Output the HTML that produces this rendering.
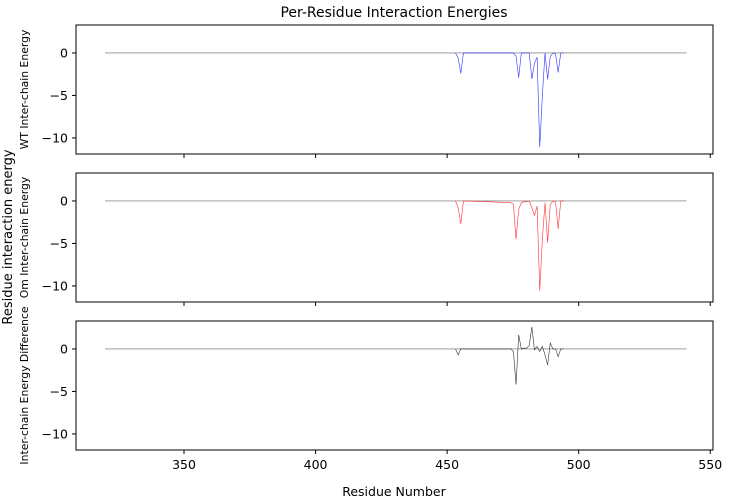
<!DOCTYPE html>
<html><head><meta charset="utf-8"><style>
body{margin:0;background:#fff}
svg{display:block;font-family:"DejaVu Sans","Liberation Sans",sans-serif}
</style></head><body>
<svg id="chart" width="750" height="500" viewBox="0 0 750 500" xmlns="http://www.w3.org/2000/svg">
<text x="394" y="17" font-size="14" text-anchor="middle">Per-Residue Interaction Energies</text>
<text x="394" y="496" font-size="12.5" text-anchor="middle">Residue Number</text>
<text transform="translate(12,237) rotate(-90)" font-size="13" text-anchor="middle">Residue interaction energy</text>
<g id="plots"></g>
</svg>
<script>
const xStart = 320, xEnd = 541;
const yTicks = [0, -5, -10];
const xTicks = [350, 400, 450, 500, 550];
const residues = [453,454,455,456,457,474,475,476,477,478,479,480,481,482,483,484,485,486,487,488,489,490,491,492,493,494];
const wtValues = [0,-0.6,-2.4,0,0,0,0,-0.4,-2.9,0,0,0,0,-3.06,-1.2,-0.5,-11.1,-5,0,-3.1,-0.4,0,-0.1,-2.3,0,0];
const omValues = [0,-0.8,-2.7,0,0,-0.2,-0.4,-4.5,-1.0,-0.2,-0.1,-0.1,0,-0.8,-1.7,-0.6,-10.55,-4.5,-0.2,-4.9,-0.4,0,-0.1,-3.3,0,0];
const diffValues = [0,-0.7,0,0,0,0,-0.3,-4.2,1.65,0,0.1,0.1,0.4,2.6,-0.1,0.3,-0.3,0.3,-0.7,-1.9,0.7,0,0,-0.9,0,0];
const panelLabels = ["WT Inter-chain Energy","Om Inter-chain Energy","Inter-chain Energy Difference"];
const colors = ["#0000ff","#ff0000","#000000"];
const series = [wtValues, omValues, diffValues];

const NS = "http://www.w3.org/2000/svg";
const X0 = 76, X1 = 713, xMin = 308.95, xMax = 551.05;
const yMin = -11.89, yMax = 3.29, PH = 129;
const tops = [25, 173, 321];
const sx = v => X0 + (v - xMin) / (xMax - xMin) * (X1 - X0);
function mk(tag, attrs, parent){const e=document.createElementNS(NS,tag);for(const k in attrs)e.setAttribute(k,attrs[k]);parent.appendChild(e);return e;}
const g = document.getElementById('plots');
tops.forEach((top, i) => {
  const sy = v => top + (yMax - v) / (yMax - yMin) * PH;
  const pg = mk('g', {}, g);
  
  
  const base = mk('line', {x1: sx(xStart), x2: sx(xEnd), y1: sy(0), y2: sy(0), stroke: '#666', 'stroke-width': 0.6}, pg);
  
  
  const d = residues.map((r, j) => (j ? 'L' : 'M') + sx(r + 0.2).toFixed(2) + ' ' + sy(series[i][j]).toFixed(2)).join(' ');
  const p = mk('path', {d: d, fill: 'none', stroke: colors[i], 'stroke-width': 0.6, 'stroke-opacity': 0.8}, pg);
  
  
  const fr = mk('rect', {x: X0, y: top, width: X1 - X0, height: PH, fill: 'none', stroke: '#000', 'stroke-width': 1}, pg);
  
  
  yTicks.forEach(t => {
    mk('line', {x1: X0 - 4, x2: X0, y1: sy(t), y2: sy(t), stroke: '#000'}, pg);
    const tx = mk('text', {x: X0 - 8, y: sy(t) + 4.5, 'font-size': 12.5, 'text-anchor': 'end'}, pg);
    tx.textContent = t < 0 ? '\u2212' + Math.abs(t) : String(t);
    
    
  });
  xTicks.forEach(t => {
    mk('line', {x1: sx(t), x2: sx(t), y1: top + PH, y2: top + PH + 4, stroke: '#000'}, pg);
    if (i === 2) {
      const tx = mk('text', {x: sx(t), y: top + PH + 19, 'font-size': 12.5, 'text-anchor': 'middle'}, pg);
      tx.textContent = t;
      
      
    }
  });
  const yl = mk('text', {transform: `translate(28,${top + PH/2}) rotate(-90)`, 'font-size': 10.8, 'text-anchor': 'middle'}, pg);
  yl.textContent = panelLabels[i];
  
  
});
</script>
</body></html>
